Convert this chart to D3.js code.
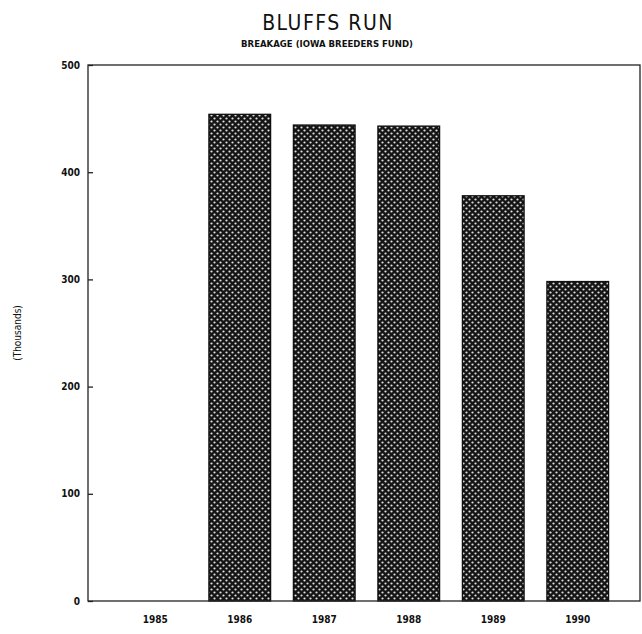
<!DOCTYPE html>
<html>
<head>
<meta charset="utf-8">
<script src="https://cdn.jsdelivr.net/npm/d3@7"></script>
<style>
  body { margin: 0; background: #fff; }
  text { font-family: "DejaVu Sans Condensed", "DejaVu Sans", sans-serif; fill: #111; }
</style>
</head>
<body>
<div id="chart"></div>
<script>
// donnees
const annees = ["1985", "1986", "1987", "1988", "1989", "1990"];
const valeurs = [0, 454, 444, 443, 378, 298];
const graduations = [0, 100, 200, 300, 400, 500];

const largeur = 642, hauteur = 634;
const gauche = 88, droite = 641, haut = 65, bas = 601;

const svg = d3.select("#chart").append("svg")
    .attr("width", largeur)
    .attr("height", hauteur);

// motif quadrille des barres
const defs = svg.append("defs");
const motif = defs.append("pattern")
    .attr("id", "quadrille")
    .attr("patternUnits", "userSpaceOnUse")
    .attr("width", 6)
    .attr("height", 6);
motif.append("rect").attr("width", 6).attr("height", 6).attr("fill", "#151515");
motif.append("circle").attr("cx", 1.5).attr("cy", 1.5).attr("r", 1.1).attr("fill", "#e0e0e0");
motif.append("circle").attr("cx", 4.5).attr("cy", 4.5).attr("r", 1.1).attr("fill", "#e0e0e0");

const x = d3.scaleBand()
    .domain(annees)
    .range([113, 620])
    .paddingInner(0.27)
    .paddingOuter(0.135);

const y = d3.scaleLinear()
    .domain([0, 500])
    .range([bas, haut]);

// barres
svg.selectAll(".barre")
    .data(annees.filter((a, i) => valeurs[i] > 0))
    .enter().append("rect")
    .attr("class", "barre")
    .attr("x", d => x(d))
    .attr("y", d => y(valeurs[annees.indexOf(d)]))
    .attr("width", x.bandwidth())
    .attr("height", d => y(0) - y(valeurs[annees.indexOf(d)]))
    .attr("fill", "url(#quadrille)")
    .attr("stroke", "#111")
    .attr("stroke-width", 1.3);

// cadre
svg.append("rect")
    .attr("x", gauche)
    .attr("y", haut)
    .attr("width", droite - gauche - 1)
    .attr("height", bas - haut)
    .attr("fill", "none")
    .attr("stroke", "#222")
    .attr("stroke-width", 1.3);

// axe vertical
const axeY = svg.append("g")
    .attr("transform", "translate(" + gauche + ",0)")
    .call(d3.axisRight(y).tickValues(graduations).tickSize(5).tickFormat(""));
axeY.select(".domain").remove();
axeY.selectAll("line").attr("stroke", "#222").attr("stroke-width", 1.3);

svg.selectAll(".etiquetteY")
    .data(graduations)
    .enter().append("text")
    .attr("class", "etiquetteY")
    .attr("x", 80)
    .attr("y", d => y(d) + 3.5)
    .attr("text-anchor", "end")
    .attr("font-size", 10)
    .attr("font-weight", "bold")
    .text(d => d);

// etiquettes des annees
svg.selectAll(".etiquetteX")
    .data(annees)
    .enter().append("text")
    .attr("class", "etiquetteX")
    .attr("x", d => x(d) + x.bandwidth() / 2)
    .attr("y", 623)
    .attr("text-anchor", "middle")
    .attr("font-size", 10)
    .attr("font-weight", "bold")
    .text(d => d);

// titre du graphique
svg.append("text")
    .attr("x", 328)
    .attr("y", 30)
    .attr("text-anchor", "middle")
    .attr("font-size", 21)
    .attr("letter-spacing", 1.5)
    .text("BLUFFS RUN");

svg.append("text")
    .attr("x", 327)
    .attr("y", 47)
    .attr("text-anchor", "middle")
    .attr("font-size", 9.5)
    .attr("font-weight", "bold")
    .text("BREAKAGE (IOWA BREEDERS FUND)");

// titre de l'axe
svg.append("text")
    .attr("transform", "translate(21,333) rotate(-90)")
    .attr("text-anchor", "middle")
    .attr("font-size", 10)
    .text("(Thousands)");
</script>
</body>
</html>
